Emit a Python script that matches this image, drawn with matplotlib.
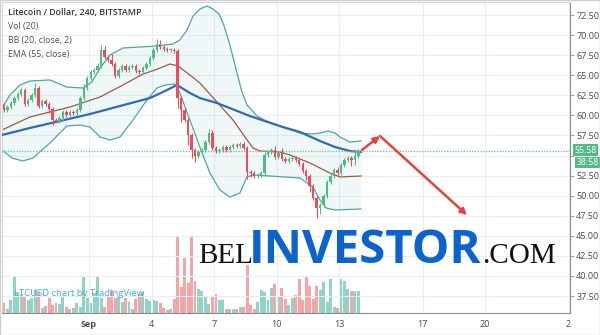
import matplotlib
matplotlib.use("Agg")
import matplotlib.pyplot as plt
import numpy as np

# ---------------------------------------------------------------------------
# Data (4h candles, x in days from Sep 1)
# ---------------------------------------------------------------------------
t_first = -4.08
candle_step = 1 / 6
first_open = 61.2
closes = [
    60.67, 61.04, 61.54, 62.16, 62.66, 63.16, 61.42, 61.91, 62.54, 63.41,
    61.17, 61.79, 61.42, 60.79, 59.42, 59.30, 59.67, 60.42, 60.05, 60.42,
    60.30, 60.67, 62.16, 63.41, 64.65, 65.40, 65.65, 66.15, 68.14, 67.27,
    66.90, 66.40, 64.90, 65.65, 66.15, 65.65, 66.02, 66.15, 65.53, 65.40,
    65.90, 66.40, 67.15, 68.14, 68.89, 68.51, 68.27, 68.14, 68.14, 68.02,
    62.16, 60.67, 59.42, 57.56, 55.69, 54.94, 55.44, 55.69, 56.68, 57.81,
    55.94, 55.56, 55.69, 56.06, 55.69, 56.06, 56.31, 56.19, 56.44, 55.94,
    52.95, 52.82, 52.45, 52.57, 52.82, 55.07, 55.44, 55.69, 54.82, 55.32,
    54.57, 54.32, 54.57, 54.69, 54.44, 53.94, 53.07, 52.45, 51.20, 49.71,
    48.47, 48.84, 49.96, 51.70, 52.45, 53.20, 52.82, 53.82, 54.44, 54.69,
    54.44, 54.94, 55.58,
]
wick_default = 0.25
wick_hi = {0: 0.4, 3: 0.3, 9: 0.6, 23: 0.5, 27: 0.4, 28: 0.6, 29: 0.5, 31: 0.7,
           44: 0.6, 45: 0.5, 50: 0.3, 59: 0.5, 60: 0.4, 75: 0.4, 78: 0.5,
           80: 0.6, 96: 0.4, 101: 0.5}
wick_lo = {13: 0.5, 14: 0.6, 50: 1.2, 51: 1.5, 53: 1.2, 54: 1.0, 55: 0.8,
           70: 0.9, 71: 0.5, 87: 0.5, 88: 0.7, 90: 1.2, 91: 0.8, 100: 0.7,
           101: 0.6}
volume = [
    10, 4, 13, 36, 21, 19, 16, 13, 15, 23,
    21, 5, 7, 15, 8, 10, 9, 16, 6, 4,
    5, 10, 6, 36, 15, 10, 20, 36, 15, 6,
    16, 23, 15, 16, 11, 15, 11, 4, 14, 19,
    21, 14, 12, 13, 12, 10, 5, 3, 4, 14,
    76, 26, 55, 30, 76, 32, 24, 22, 17, 9,
    16, 19, 13, 13, 4, 4, 4, 4, 6, 6,
    48, 8, 4, 11, 23, 21, 13, 25, 29, 16,
    25, 14, 8, 15, 18, 34, 13, 37, 27, 14,
    27, 23, 31, 11, 34, 6, 5, 34, 32, 24,
    22, 22, 22,
]

# Bollinger bands and EMA, sampled along the drawn lines (day, price)
bb_upper_t = [-4.17, -3.79, -3.31, -2.83, -1.87, -1.06, -0.29, 0.14, 0.53, 1.01,
              1.63, 2.45, 3.26, 4.03, 4.36, 4.70, 4.99, 5.32, 5.66, 5.95,
              6.24, 6.47, 6.76, 7.10, 7.34, 7.58, 8.06, 8.68, 9.30, 10.12,
              10.74, 11.08, 11.46, 11.80, 12.04, 12.52, 13.05]
bb_upper_p = [60.92, 62.54, 63.78, 64.28, 64.41, 63.53, 63.41, 64.16, 65.90, 67.52,
              68.39, 68.52, 68.64, 68.89, 69.39, 70.63, 72.37, 73.25, 73.62, 73.25,
              72.62, 71.25, 68.76, 65.28, 62.91, 61.29, 59.92, 59.05, 58.55, 57.80,
              57.68, 57.80, 58.05, 57.80, 57.31, 56.68, 56.81]
bb_lower_t = [-4.17, -3.69, -3.17, -2.69, -1.87, -1.06, -0.43, 0.05, 0.53, 1.01,
              1.49, 2.11, 2.78, 3.26, 3.65, 4.12, 4.36, 4.84, 5.32, 5.80,
              6.28, 6.76, 7.24, 7.58, 7.87, 8.68, 10.12, 10.74, 11.08, 11.37,
              11.80, 13.05]
bb_lower_p = [55.69, 54.69, 54.32, 54.69, 56.56, 58.68, 58.80, 58.55, 57.31, 56.93,
              57.31, 59.42, 61.91, 63.41, 63.78, 63.91, 62.79, 59.42, 56.06, 52.82,
              50.71, 49.83, 50.33, 52.33, 52.57, 52.45, 52.20, 51.08, 49.46, 48.47,
              48.22, 48.34]
bb_mid_t = [-4.17, -2.83, -1.87, -0.91, 0.53, 1.63, 2.59, 3.17, 3.88, 4.27,
            4.84, 5.32, 6.14, 6.91, 7.48, 7.87, 8.20, 9.16, 9.64, 10.60,
            11.56, 12.04, 13.05]
bb_mid_p = [58.18, 59.80, 60.42, 61.04, 62.29, 63.78, 65.15, 65.65, 66.40, 66.15,
            65.03, 64.03, 61.67, 59.42, 57.31, 55.94, 55.56, 55.44, 55.07, 54.07,
            52.82, 52.33, 52.45]
ema_t = [-4.17, -2.83, -1.39, 0.05, 1.49, 2.93, 3.65, 4.22, 4.84, 5.32,
         6.14, 7.72, 9.30, 10.12, 11.08, 11.80, 12.52, 13.05]
ema_p = [57.56, 58.43, 59.30, 60.17, 61.17, 62.16, 63.04, 63.78, 62.79, 62.16,
         61.54, 59.92, 58.55, 57.93, 56.81, 56.06, 55.56, 55.44]

# projection arrows (day, price)
arrow_up = [(13.09, 55.69), (13.96, 57.43)]
arrow_down = [(13.96, 57.43), (18.13, 47.59)]

last_price = 55.58
countdown = "38:58"
price_ticks = np.arange(37.5, 72.51, 2.5)
hidden_tick = 55.0  # sits under the price boxes in the reference
day_ticks = [0, 3, 6, 9, 12, 16, 19, 23]
day_labels = ["Sep", "4", "7", "10", "13", "17", "20", "2"]

GREEN = "#53b987"
RED = "#eb4d5c"
FONT = "Open Sans"

# ---------------------------------------------------------------------------
# Figure
# ---------------------------------------------------------------------------
fig = plt.figure(figsize=(6, 3.35), dpi=100)
rect = [2 / 600, 22 / 335, 568 / 600, 311 / 335]
ax_vol = fig.add_axes(rect, zorder=0)
ax = fig.add_axes(rect, zorder=1)
ax.patch.set_visible(False)

n = len(closes)
t = t_first + candle_step * np.arange(n)
c = np.array(closes)
o = np.r_[first_open, c[:-1]]
up = c >= o
hi = np.maximum(o, c) + np.array([wick_hi.get(i, wick_default) for i in range(n)])
lo = np.minimum(o, c) - np.array([wick_lo.get(i, wick_default) for i in range(n)])
colors = np.where(up, GREEN, RED)

# volume
vol_colors = np.where(up, "#93d3c6", "#f6a5a6")
ax_vol.bar(t, volume, width=candle_step * 0.85, color=vol_colors, linewidth=0)
ax_vol.set_ylim(0, 311)
ax_vol.set_xlim(-4.17, 23.07)
ax_vol.axis("off")

# bollinger band fill + lines
ax.fill(np.r_[bb_upper_t, bb_lower_t[::-1]], np.r_[bb_upper_p, bb_lower_p[::-1]],
        color="#4aa7a2", alpha=0.08, lw=0, zorder=1)
ax.plot(bb_upper_t, bb_upper_p, color="#4aa7a2", lw=0.9, zorder=2)
ax.plot(bb_lower_t, bb_lower_p, color="#4aa7a2", lw=0.9, zorder=2)
ax.plot(bb_mid_t, bb_mid_p, color="#9a5a4c", lw=0.9, zorder=2)
ax.plot(ema_t, ema_p, color="#2f6db3", lw=1.6, zorder=3)

# candles
ax.vlines(t, lo, hi, colors=colors, lw=0.8, zorder=4)
body = np.maximum(np.abs(c - o), 0.08)
ax.bar(t, body, bottom=np.minimum(o, c), width=candle_step * 0.7,
       color=colors, linewidth=0, zorder=5)

# last price line
ax.axhline(last_price, color="#7cc79a", lw=1.0, ls=(0, (1, 1)), zorder=3)

# arrows
for (x0, y0), (x1, y1) in (arrow_up, arrow_down):
    ax.annotate("", xy=(x1, y1), xytext=(x0, y0),
                arrowprops=dict(arrowstyle="-|>", color="#e8413a", lw=1.8,
                                mutation_scale=9, shrinkA=0, shrinkB=0),
                zorder=6)

# axes styling
ax.set_xlim(-4.17, 23.07)
ax.set_ylim(35.39, 74.12)
ax.yaxis.tick_right()
ax.set_yticks(price_ticks)
ax.set_yticklabels(["" if abs(v - hidden_tick) < 1e-6 else f"{v:.2f}"
                    for v in price_ticks])
ax.set_xticks(day_ticks)
ax.set_xticklabels(day_labels)
ax.tick_params(axis="y", length=3, width=0.6, color="#8c8c8c", pad=1.5,
               labelsize=6.5, labelcolor="#4a4a4a")
ax.tick_params(axis="x", length=0, pad=5, labelsize=6.5, labelcolor="#4a4a4a")
ax.get_xticklabels()[0].set_fontweight("bold")
for lab in ax.get_xticklabels() + ax.get_yticklabels():
    lab.set_fontfamily(FONT)
ax.grid(True, color="#e8eef3", lw=0.8, zorder=0)
ax.set_axisbelow(True)
for side in ("left", "top"):
    ax.spines[side].set_color("#d6d6d6")
    ax.spines[side].set_linewidth(0.8)
for side in ("right", "bottom"):
    ax.spines[side].set_color("#8c8c8c")
    ax.spines[side].set_linewidth(0.8)

# right-side price boxes
ax.annotate(f"{last_price:.2f}", xy=(1.0, last_price),
            xycoords=("axes fraction", "data"), xytext=(3, 0.5),
            textcoords="offset points", va="center", ha="left",
            fontsize=6.3, color="white", family=FONT,
            bbox=dict(boxstyle="square,pad=0.15", fc=GREEN, ec="none"))
ax.annotate(countdown, xy=(1.0, last_price), xycoords=("axes fraction", "data"),
            xytext=(4.5, -8.5), textcoords="offset points", va="center", ha="left",
            fontsize=6.3, color="white", family=FONT,
            bbox=dict(boxstyle="square,pad=0.15", fc=GREEN, ec="none"))

# legend text top-left
legend_lines = ["Litecoin / Dollar, 240, BITSTAMP", "Vol (20)",
                "BB (20, close, 2)", "EMA (55, close)"]
for k, line in enumerate(legend_lines):
    fig.text(8 / 600, 1 - (13 + 14 * k) / 335, line, va="center", ha="left",
             fontsize=6.3, family=FONT, color="#333333" if k == 0 else "#505050",
             fontweight="semibold" if k == 0 else "normal", zorder=10)

fig.text(14 / 600, 1 - 294 / 335, "LTCUSD chart by TradingView", va="center",
         ha="left", fontsize=6.8, family=FONT, color="#45a8ef", zorder=10)

# watermark
base = 1 - 263 / 335
fig.text(198 / 600, base, "BEL", family="Liberation Serif", fontsize=21,
         color="#111111", va="baseline", ha="left", zorder=10)
fig.text(249 / 600, base, "INVESTOR", family=FONT, fontweight="bold",
         fontsize=34, color="#0b63ce", va="baseline", ha="left", zorder=10)
fig.text(482 / 600, base, ".COM", family="Liberation Serif", fontsize=21,
         color="#111111", va="baseline", ha="left", zorder=10)

# outer frame
fig.patches.append(plt.Rectangle((0, 0), 1, 1, transform=fig.transFigure,
                                 fill=False, ec="#d0d0d0", lw=1.0))

fig.savefig("out.png", dpi=100)
